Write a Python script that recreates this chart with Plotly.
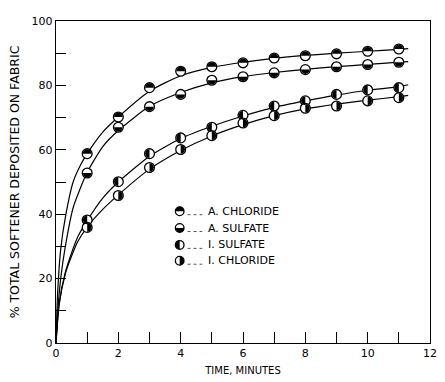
import plotly.graph_objects as go

# Sampling times (minutes) for the measured points
times = [1, 2, 3, 4, 5, 6, 7, 8, 9, 10, 11]

# Measured % of total softener deposited on fabric
a_chloride = [58.8, 70.2, 79.3, 84.4, 85.8, 87.0, 88.5, 89.2, 89.8, 90.6, 91.3]
a_sulfate = [52.8, 67.0, 73.4, 77.2, 81.6, 82.7, 83.9, 84.9, 85.8, 86.5, 87.2]
i_sulfate = [38.2, 50.1, 58.8, 63.7, 67.0, 70.7, 73.6, 75.2, 77.2, 78.6, 79.3]
i_chloride = [35.9, 45.8, 54.5, 60.1, 64.4, 68.3, 70.6, 72.9, 73.6, 75.2, 76.2]

# Smoothed deposition curves drawn through the data
curve_t = [0, 0.05, 0.15, 0.3, 0.55, 0.8, 1, 1.5, 2, 3, 4, 5, 6, 7, 8, 9, 10, 11, 11.3]
a_chloride_curve = [0, 15, 29, 39, 50, 55.5, 58.8, 65.5, 70.2, 78.2, 83.0, 85.6, 87.2, 88.4, 89.3, 90.0, 90.6, 91.2, 91.4]
a_sulfate_curve = [0, 9, 20, 30, 42, 48.5, 53.0, 61.0, 66.0, 73.5, 77.8, 80.8, 82.7, 84.0, 85.0, 85.8, 86.5, 87.2, 87.4]
curve_t_i = [0, 0.1, 0.3, 0.5, 0.7, 1, 1.5, 2, 3, 4, 5, 6, 7, 8, 9, 10, 11, 11.3]
i_sulfate_curve = [0, 12, 22, 28, 33, 38.0, 45.0, 50.0, 58.0, 63.5, 67.3, 70.5, 73.2, 75.2, 77.0, 78.5, 79.6, 80.2]
i_chloride_curve = [0, 12, 21.5, 27, 31.5, 36.0, 41.5, 46.0, 54.0, 59.8, 64.3, 67.8, 70.6, 72.7, 74.2, 75.4, 76.5, 76.9]

# name, points, curve, which half of the marker is filled
series = [
    ("A. CHLORIDE", a_chloride, curve_t, a_chloride_curve, "top"),
    ("A. SULFATE", a_sulfate, curve_t, a_sulfate_curve, "bottom"),
    ("I. SULFATE", i_sulfate, curve_t_i, i_sulfate_curve, "left"),
    ("I. CHLORIDE", i_chloride, curve_t_i, i_chloride_curve, "right"),
]

x_ticks = list(range(0, 13))
x_ticktext = [str(v) if v % 2 == 0 else "" for v in x_ticks]
y_ticks = list(range(0, 101, 10))
y_ticktext = [str(v) if v % 20 == 0 else "" for v in y_ticks]

FONT = "DejaVu Sans"
W, H = 445, 382
X0, X1, Y0, Y1 = 56, 437, 21, 346          # plot area in pixels
XR, YR = (0, 12), (0, 100)
PX_X = (X1 - X0) / (XR[1] - XR[0])          # pixels per minute
PX_Y = (Y1 - Y0) / (YR[1] - YR[0])          # pixels per percent
R_PX = 4.4                                  # marker radius in pixels
K = 0.5523


def half_disk(cx, cy, rx, ry, side):
    """Closed Bezier path of a half disk centred at (cx, cy)."""
    if side == "top":
        return (f"M{cx-rx},{cy} C{cx-rx},{cy+K*ry} {cx-K*rx},{cy+ry} {cx},{cy+ry} "
                f"C{cx+K*rx},{cy+ry} {cx+rx},{cy+K*ry} {cx+rx},{cy} Z")
    if side == "bottom":
        return (f"M{cx-rx},{cy} C{cx-rx},{cy-K*ry} {cx-K*rx},{cy-ry} {cx},{cy-ry} "
                f"C{cx+K*rx},{cy-ry} {cx+rx},{cy-K*ry} {cx+rx},{cy} Z")
    if side == "left":
        return (f"M{cx},{cy+ry} C{cx-K*rx},{cy+ry} {cx-rx},{cy+K*ry} {cx-rx},{cy} "
                f"C{cx-rx},{cy-K*ry} {cx-K*rx},{cy-ry} {cx},{cy-ry} Z")
    return (f"M{cx},{cy+ry} C{cx+K*rx},{cy+ry} {cx+rx},{cy+K*ry} {cx+rx},{cy} "
            f"C{cx+rx},{cy-K*ry} {cx+K*rx},{cy-ry} {cx},{cy-ry} Z")


fig = go.Figure()

for name, vals, ct, cv, side in series:
    fig.add_trace(go.Scatter(x=ct, y=cv, mode="lines",
                             line=dict(color="black", width=1.2, shape="spline", smoothing=0.6),
                             hoverinfo="skip", showlegend=False))

shapes = []
rx_d, ry_d = R_PX / PX_X, R_PX / PX_Y
for name, vals, ct, cv, side in series:
    fig.add_trace(go.Scatter(x=times, y=vals, mode="markers", name=name,
                             marker=dict(symbol="circle", size=2 * R_PX + 1, color="white",
                                         line=dict(color="black", width=1.3)),
                             showlegend=False))
    for t, v in zip(times, vals):
        shapes.append(dict(type="path", xref="x", yref="y", path=half_disk(t, v, rx_d, ry_d, side),
                           fillcolor="black", line=dict(width=0), layer="above"))

# Legend block inside the plot
legend_y = [213, 230, 247, 263]
sym_x = 182
rx_p, ry_p = R_PX / (X1 - X0), R_PX / (Y1 - Y0)


def px_x(p):
    return (p - X0) / (X1 - X0)


def px_y(p):
    return (Y1 - p) / (Y1 - Y0)


for (name, vals, ct, cv, side), py in zip(series, legend_y):
    xp, yp = px_x(sym_x), px_y(py)
    shapes.append(dict(type="circle", xref="paper", yref="paper",
                       x0=xp - rx_p, x1=xp + rx_p, y0=yp - ry_p, y1=yp + ry_p,
                       fillcolor="white", line=dict(color="black", width=1.3), layer="above"))
    shapes.append(dict(type="path", xref="paper", yref="paper", path=half_disk(xp, yp, rx_p, ry_p, side),
                       fillcolor="black", line=dict(width=0), layer="above"))
    shapes.append(dict(type="line", xref="paper", yref="paper",
                       x0=px_x(190), x1=px_x(205), y0=px_y(py + 3.5), y1=px_y(py + 3.5),
                       line=dict(color="#555", width=1, dash="dot")))
    fig.add_annotation(x=px_x(209), y=yp, xref="paper", yref="paper",
                       xanchor="left", yanchor="middle", text=name, showarrow=False,
                       font=dict(family=FONT, size=11, color="black"))

fig.update_layout(
    width=W, height=H,
    margin=dict(l=X0, r=W - X1, t=Y0, b=H - Y1),
    paper_bgcolor="white", plot_bgcolor="white",
    font=dict(family=FONT, color="black"),
    shapes=shapes,
    xaxis=dict(range=list(XR), tickmode="array", tickvals=x_ticks, ticktext=x_ticktext,
               ticks="inside", ticklen=11, tickwidth=1.2, tickcolor="black",
               showline=True, linecolor="black", linewidth=1.4, mirror=True,
               showgrid=False, zeroline=False, tickfont=dict(size=11),
               title=dict(text="TIME, MINUTES", font=dict(size=10), standoff=7)),
    yaxis=dict(range=list(YR), tickmode="array", tickvals=y_ticks, ticktext=y_ticktext,
               ticks="inside", ticklen=10, tickwidth=1.2, tickcolor="black",
               showline=True, linecolor="black", linewidth=1.4, mirror=True,
               showgrid=False, zeroline=False, tickfont=dict(size=11),
               title=dict(text="% TOTAL SOFTENER DEPOSITED ON FABRIC", font=dict(size=12.5), standoff=9)),
)

fig.write_html("out.html")
